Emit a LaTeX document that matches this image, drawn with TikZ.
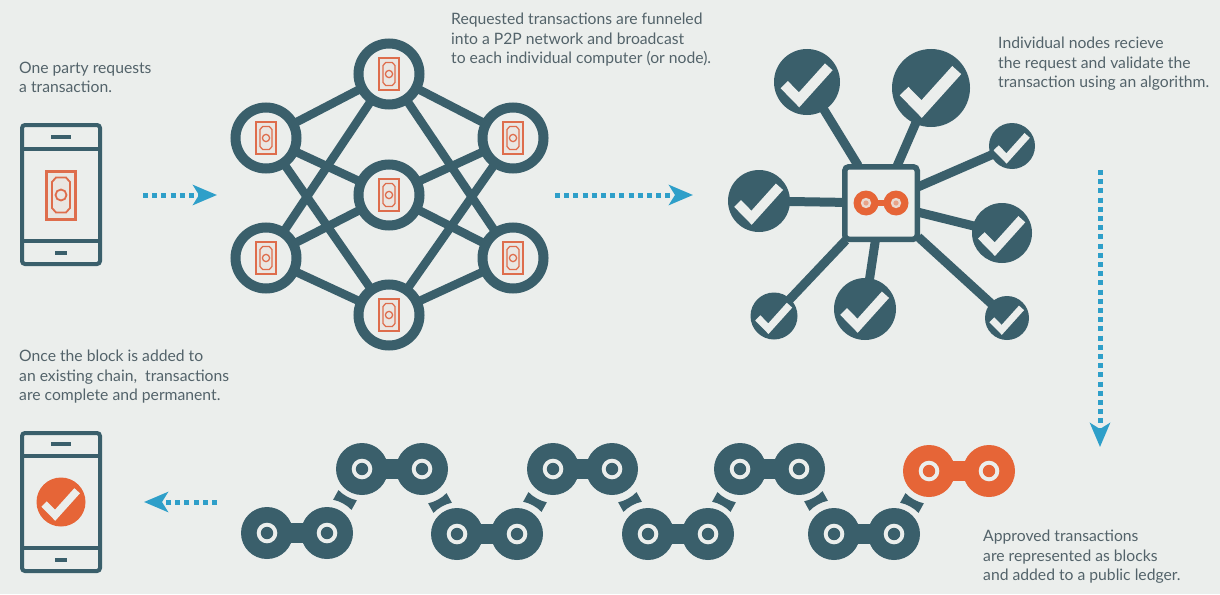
\documentclass[tikz,border=0pt]{standalone}
\usepackage{fontspec}
\setmainfont{Lato}
\usetikzlibrary{arrows.meta}
\definecolor{bgc}{HTML}{EBEEEC}
\definecolor{dark}{HTML}{3A5F6B}
\definecolor{orng}{HTML}{E66537}
\definecolor{billc}{HTML}{DE6D4C}
\definecolor{blueac}{HTML}{2E9FC9}
\definecolor{txt}{HTML}{53636A}
\tikzset{
  caption/.style={anchor=north west,inner sep=0pt,align=left,text=txt,font=\fontsize{15.7}{19.3}\selectfont},
  netnode/.style={circle,draw=dark,line width=10pt,fill=bgc,minimum size=61pt,inner sep=0pt,outer sep=2pt},
  netedge/.style={draw=dark,line width=8.5pt},
  satnode/.style={circle,fill=dark,inner sep=0pt,outer sep=-1pt},
  satedge/.style={draw=dark,line width=9pt},
  hubnode/.style={rectangle,draw=dark,line width=5.5pt,fill=bgc,rounded corners=4pt,minimum size=72.5pt,inner sep=0pt,outer sep=1pt},
  flow/.style={draw=blueac,line width=5pt,dash pattern=on 5pt off 4.2pt,-{Stealth[length=24pt,width=20pt,inset=6pt]}},
  phonebody/.style={draw=dark,line width=4pt,rounded corners=3pt},
  phoneline/.style={draw=dark,line width=4pt},
}
\newcommand{\bill}[3]{% x y scale
  \begin{scope}[shift={(#1,#2)},scale=#3]
    \pgfmathsetmacro{\lwa}{3*#3}\pgfmathsetmacro{\lwb}{1.8*max(#3,0.7)}
    \draw[billc,line width=\lwa pt,fill=billc!6!bgc] (-14.5,-24) rectangle (14.5,24);
    \draw[billc,line width=\lwb pt] (-5,-17.5) -- (5,-17.5) -- (9,-13) -- (9,13) -- (5,17.5) -- (-5,17.5) -- (-9,13) -- (-9,-13) -- cycle;
    \draw[billc,line width=\lwb pt] (0,0) circle (5.5);
  \end{scope}}
\newcommand{\chk}[4]{% x y r colour
  \pgfmathsetmacro{\lwc}{0.31*#3}
  \draw[#4,line width=\lwc pt,miter limit=10,shift={(#1,#2)},scale=#3] (-.69,.08) -- (-.24,.54) -- (.66,-.46);}
\newcommand{\sat}[4]{% name x y r
  \node[satnode,minimum size=2*#4 pt] (#1) at (#2,#3) {};
  \chk{#2}{#3}{#4}{bgc}
  \draw[satedge] (hub) -- (#1);}
\newcommand{\chainlink}[4]{% x1 x2 y colour
  \fill[#4] (#1,#3) circle (26);
  \fill[#4] (#2,#3) circle (26);
  \fill[#4] (#1,#3-10) rectangle (#2,#3+10);
  \fill[bgc] (#1,#3) circle (10.3);
  \fill[bgc] (#2,#3) circle (10.3);
  \fill[#4] (#1,#3) circle (6.2);
  \fill[#4] (#2,#3) circle (6.2);}
\newcommand{\bow}[3]{% x y angle
  \fill[dark,shift={(#1,#2)},rotate=#3] (-10.5,-5.5) .. controls (-4,-3.4) and (4,-3.4) .. (10.5,-5.5) -- (10.5,5.5) .. controls (4,3.4) and (-4,3.4) .. (-10.5,5.5) -- cycle;}
\newcommand{\phone}[6]{% top line1 line2 bottom sp1 sp2
  \draw[phonebody] (22,#1) rectangle (100,#4);
  \draw[phoneline] (22,#2) -- (100,#2) (22,#3) -- (100,#3);
  \draw[phoneline] (51,#5) -- (71,#5) (55,#6) -- (67,#6);}
\begin{document}
\begin{tikzpicture}[x=1pt,y=-1pt]
\useasboundingbox[fill=bgc] (0,0) rectangle (1220,594);
% texts
\node[caption] (t1) at (19,62) {One party requests\\a transaction.};
\node[caption] (t2) at (451,13) {Requested transactions are funneled\\into a P2P network and broadcast\\to each individual computer (or node).};
\node[caption] (t3) at (998,37) {Individual nodes recieve\\the request and validate the\\transaction using an algorithm.};
\node[caption] (t4) at (19,350) {Once the block is added to\\an existing chain,\ \ transactions\\are complete and permanent.};
\node[caption] (t5) at (983,530) {Approved transactions\\are represented as blocks\\and added to a public ledger.};
% phone 1
\phone{125}{149}{241}{264}{137}{253}
\bill{61}{195}{1}
% phone 2
\phone{433}{456}{548}{571}{444}{560}
\node[circle,fill=orng,minimum size=49pt,inner sep=0pt] (okc) at (61,502) {};
\chk{61}{502}{24.5}{bgc}
% network
\foreach \n/\x/\y in {nt/389/74,nlu/266/138,nru/513/138,nm/389/195,nll/266/258,nrl/513/258,nb/389/315}{
  \node[netnode] (\n) at (\x,\y) {};
  \bill{\x}{\y}{0.66}
}
\foreach \a/\b in {nt/nlu,nt/nru,nt/nll,nt/nrl,nlu/nm,nru/nm,nll/nm,nrl/nm,nlu/nb,nru/nb,nll/nb,nrl/nb}{
  \draw[netedge] (\a) -- (\b);
}
% hub
\node[hubnode] (hub) at (881,203) {};
\fill[orng] (866,203) circle (12.5);
\fill[orng] (896,203) circle (12.5);
\fill[orng] (866,200) rectangle (896,206);
\fill[bgc!85!orng] (866,203) circle (5.2);
\fill[bgc!85!orng] (896,203) circle (5.2);
\fill[orng!55!bgc] (866,203) circle (2.6);
\fill[orng!55!bgc] (896,203) circle (2.6);
\sat{sa}{807}{82}{33}
\sat{sb}{931}{88}{39}
\sat{sc}{1012}{146}{23}
\sat{sd}{1002}{233}{30}
\sat{se}{1007}{318}{22}
\sat{sf}{865}{309}{31}
\sat{sg}{774}{316}{23.5}
\sat{sh}{759}{201}{31}
% chain
\chainlink{267}{327}{533}{dark}
\chainlink{362}{422}{469}{dark}
\chainlink{457}{517}{534}{dark}
\chainlink{553}{612}{469}{dark}
\chainlink{648}{708}{534}{dark}
\chainlink{740}{799}{469}{dark}
\chainlink{834}{894}{534}{dark}
\chainlink{929}{989}{471}{orng}
\bow{345}{500}{-29}
\bow{440}{503}{29}
\bow{535}{502}{-29}
\bow{630}{502}{29}
\bow{724}{502}{-29}
\bow{816}{501}{29}
\bow{912}{503}{-29}
% flow arrows
\coordinate (a1s) at (143,195); \coordinate (a1e) at (217,195);
\coordinate (a2s) at (555,195); \coordinate (a2e) at (693,195);
\coordinate (a3s) at (1100,170); \coordinate (a3e) at (1100,447);
\coordinate (a4s) at (217,502); \coordinate (a4e) at (144,502);
\draw[flow] (a1s) -- (a1e);
\draw[flow] (a2s) -- (a2e);
\draw[flow] (a3s) -- (a3e);
\draw[flow] (a4s) -- (a4e);
\end{tikzpicture}
\end{document}
